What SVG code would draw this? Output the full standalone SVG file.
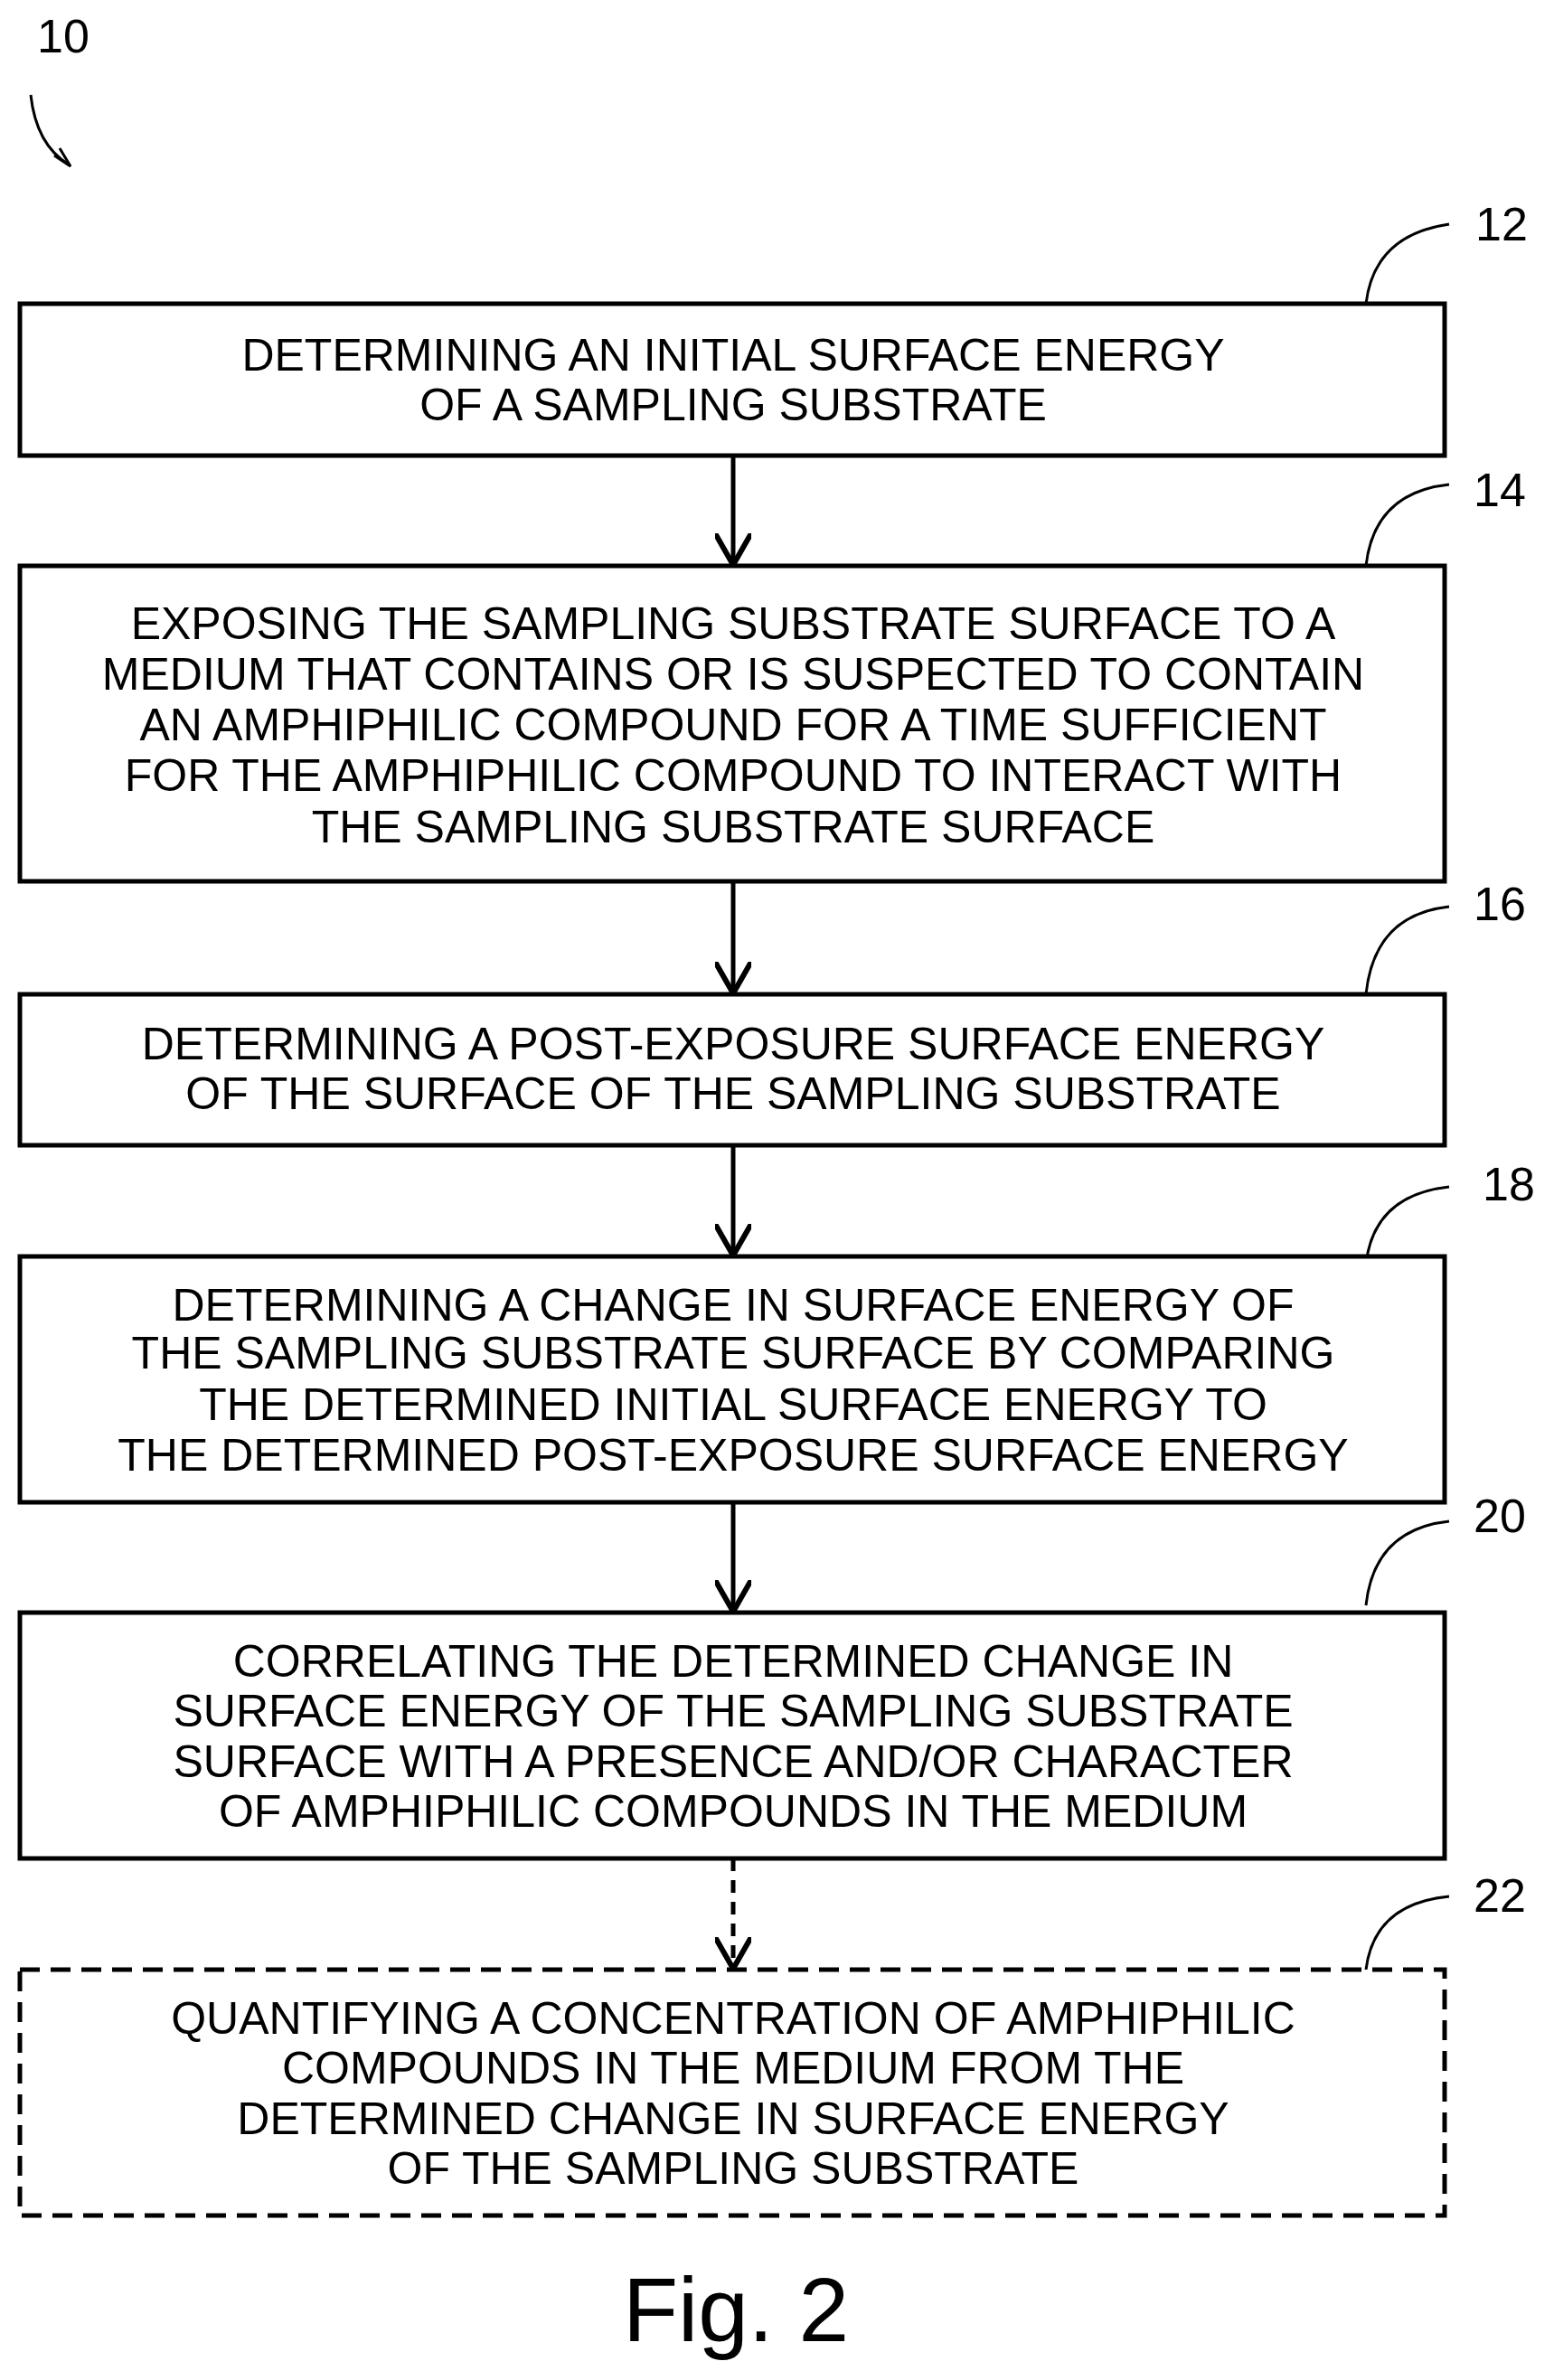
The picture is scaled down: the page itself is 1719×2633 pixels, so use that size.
<svg xmlns="http://www.w3.org/2000/svg" width="1719" height="2633" viewBox="0 0 1719 2633">
<style>
.b{fill:#fff;stroke:#000;stroke-width:5}
.t{font-family:"Liberation Sans",Arial,sans-serif;font-size:50px;text-anchor:middle;fill:#000}
.l{font-family:"Liberation Sans",Arial,sans-serif;font-size:52px;fill:#000}
.c{fill:none;stroke:#000;stroke-width:3}
.a{stroke:#000;stroke-width:5;fill:none}
</style>
<defs><marker id="ah" markerWidth="8" markerHeight="8" refX="6" refY="4" orient="auto" markerUnits="strokeWidth"><path d="M0,0 L7,4 L0,8" fill="none" stroke="#000" stroke-width="1.2"/></marker></defs>
<rect width="1719" height="2633" fill="#fff"/>
<g id="connectors">
<line class="a" x1="811" y1="504" x2="811" y2="620" marker-end="url(#ah)"/>
<line class="a" x1="811" y1="975" x2="811" y2="1094" marker-end="url(#ah)"/>
<line class="a" x1="811" y1="1267" x2="811" y2="1384" marker-end="url(#ah)"/>
<line class="a" x1="811" y1="1662" x2="811" y2="1778" marker-end="url(#ah)"/>
<line class="a" x1="811" y1="2056" x2="811" y2="2173" stroke-dasharray="14,10" marker-end="url(#ah)"/>
<path class="c" d="M34,105 Q40,160 76,182"/><path d="M60,172 L78,184 L66,164" fill="none" stroke="#000" stroke-width="3"/>
</g>
<g id="labels">
<text class="l" x="70" y="58" text-anchor="middle">10</text>
<path class="c" d="M1511,336 Q1520,260 1603,248"/><text class="l" x="1632" y="266">12</text>
<path class="c" d="M1511,626 Q1520,545 1603,536"/><text class="l" x="1630" y="560">14</text>
<path class="c" d="M1511,1100 Q1520,1012 1603,1003"/><text class="l" x="1630" y="1018">16</text>
<path class="c" d="M1511,1398 Q1520,1322 1603,1313"/><text class="l" x="1640" y="1328">18</text>
<path class="c" d="M1511,1776 Q1520,1692 1603,1683"/><text class="l" x="1630" y="1695">20</text>
<path class="c" d="M1511,2179 Q1520,2106 1603,2098"/><text class="l" x="1630" y="2115">22</text>
</g>
<g id="n12"><rect class="b" x="22" y="336" width="1576" height="168"/>
<text class="t" x="811" y="410">DETERMINING AN INITIAL SURFACE ENERGY</text><text class="t" x="811" y="465">OF A SAMPLING SUBSTRATE</text></g>
<g id="n14"><rect class="b" x="22" y="626" width="1576" height="349"/>
<text class="t" x="811" y="707">EXPOSING THE SAMPLING SUBSTRATE SURFACE TO A</text>
<text class="t" x="811" y="763">MEDIUM THAT CONTAINS OR IS SUSPECTED TO CONTAIN</text>
<text class="t" x="811" y="819">AN AMPHIPHILIC COMPOUND FOR A TIME SUFFICIENT</text>
<text class="t" x="811" y="875">FOR THE AMPHIPHILIC COMPOUND TO INTERACT WITH</text>
<text class="t" x="811" y="932">THE SAMPLING SUBSTRATE SURFACE</text></g>
<g id="n16"><rect class="b" x="22" y="1100" width="1576" height="167"/>
<text class="t" x="811" y="1172">DETERMINING A POST-EXPOSURE SURFACE ENERGY</text>
<text class="t" x="811" y="1227">OF THE SURFACE OF THE SAMPLING SUBSTRATE</text></g>
<g id="n18"><rect class="b" x="22" y="1390" width="1576" height="272"/>
<text class="t" x="811" y="1461">DETERMINING A CHANGE IN SURFACE ENERGY OF</text>
<text class="t" x="811" y="1514">THE SAMPLING SUBSTRATE SURFACE BY COMPARING</text>
<text class="t" x="811" y="1571">THE DETERMINED INITIAL SURFACE ENERGY TO</text>
<text class="t" x="811" y="1627">THE DETERMINED POST-EXPOSURE SURFACE ENERGY</text></g>
<g id="n20"><rect class="b" x="22" y="1784" width="1576" height="272"/>
<text class="t" x="811" y="1855">CORRELATING THE DETERMINED CHANGE IN</text>
<text class="t" x="811" y="1910">SURFACE ENERGY OF THE SAMPLING SUBSTRATE</text>
<text class="t" x="811" y="1966">SURFACE WITH A PRESENCE AND/OR CHARACTER</text>
<text class="t" x="811" y="2021">OF AMPHIPHILIC COMPOUNDS IN THE MEDIUM</text></g>
<g id="n22"><rect class="b" x="22" y="2179" width="1576" height="272" stroke-dasharray="22,12"/>
<text class="t" x="811" y="2250">QUANTIFYING A CONCENTRATION OF AMPHIPHILIC</text>
<text class="t" x="811" y="2305">COMPOUNDS IN THE MEDIUM FROM THE</text>
<text class="t" x="811" y="2361">DETERMINED CHANGE IN SURFACE ENERGY</text>
<text class="t" x="811" y="2416">OF THE SAMPLING SUBSTRATE</text></g>
<text class="l" x="814" y="2590" text-anchor="middle" style="font-size:100px">Fig. 2</text>
</svg>
